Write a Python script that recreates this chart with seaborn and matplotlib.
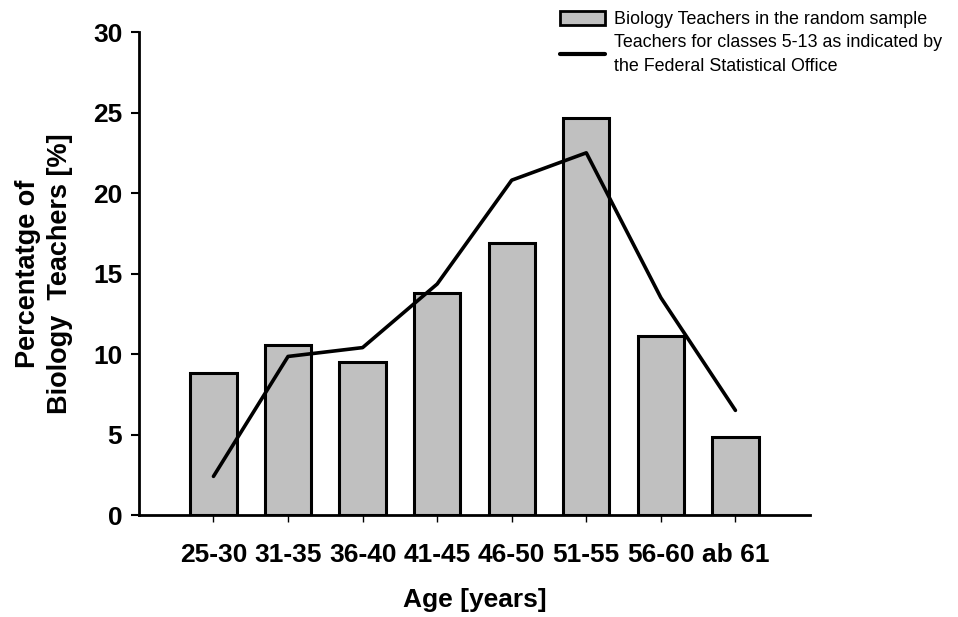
import numpy as np
import matplotlib
matplotlib.use("Agg")
import matplotlib.pyplot as plt
import seaborn as sns
from matplotlib.patches import Patch
from matplotlib.lines import Line2D

# Data
age_groups = ['25-30', '31-35', '36-40', '41-45', '46-50', '51-55', '56-60', 'ab 61']
sample_pct = [8.8, 10.55, 9.5, 13.8, 16.9, 24.65, 11.1, 4.85]
federal_pct = [2.4, 9.85, 10.4, 14.35, 20.8, 22.5, 13.5, 6.5]
y_ticks = [0, 5, 10, 15, 20, 25, 30]

sns.set_style("white")
plt.rcParams['font.family'] = ['Liberation Sans', 'DejaVu Sans']
plt.rcParams['text.color'] = 'black'
plt.rcParams['axes.labelcolor'] = 'black'
plt.rcParams['xtick.color'] = 'black'
plt.rcParams['ytick.color'] = 'black'

fig = plt.figure(figsize=(9.58, 6.17), dpi=100)
ax = fig.add_axes([0.145, 0.1653, 0.7005, 0.7827])

sns.barplot(x=age_groups, y=sample_pct, color='#c0c0c0', saturation=1,
            edgecolor='black', linewidth=2.2, width=0.62, ax=ax)
sns.lineplot(x=np.arange(len(age_groups)), y=federal_pct, color='black',
             linewidth=2.6, ax=ax)

ax.set_xlim(-1, 8)
ax.set_ylim(0, 30)
ax.set_yticks(y_ticks)
ax.set_xticks(np.arange(len(age_groups)))
ax.set_xticklabels(age_groups)

for side in ['top', 'right']:
    ax.spines[side].set_visible(False)
for side in ['left', 'bottom']:
    ax.spines[side].set_linewidth(2)
    ax.spines[side].set_color('black')

ax.tick_params(axis='y', direction='out', length=6, width=1.5, left=True,
               labelsize=19, pad=6)
ax.tick_params(axis='x', direction='out', length=5, width=1, bottom=True,
               labelsize=19, pad=15)
for lab in ax.get_xticklabels() + ax.get_yticklabels():
    lab.set_fontweight('bold')

ax.set_xlabel('Age [years]', fontsize=19, fontweight='bold', labelpad=15)
ax.set_ylabel('Percentatge of\nBiology  Teachers [%]', fontsize=19.5,
              fontweight='bold', labelpad=14, linespacing=1.3)

handles = [Patch(facecolor='#c0c0c0', edgecolor='black', linewidth=2),
           Line2D([0], [0], color='black', linewidth=3)]
labels = ['Biology Teachers in the random sample',
          'Teachers for classes 5-13 as indicated by\nthe Federal Statistical Office']
fig.legend(handles, labels, loc='upper left', bbox_to_anchor=(0.5845, 0.982),
           frameon=False, fontsize=12.9, handlelength=2.5, handleheight=0.85,
           handletextpad=0.5, labelspacing=0.3, borderpad=0, borderaxespad=0)
for txt in fig.legends[0].get_texts():
    txt.set_linespacing(1.55)

plt.savefig('out.png', dpi=100)
